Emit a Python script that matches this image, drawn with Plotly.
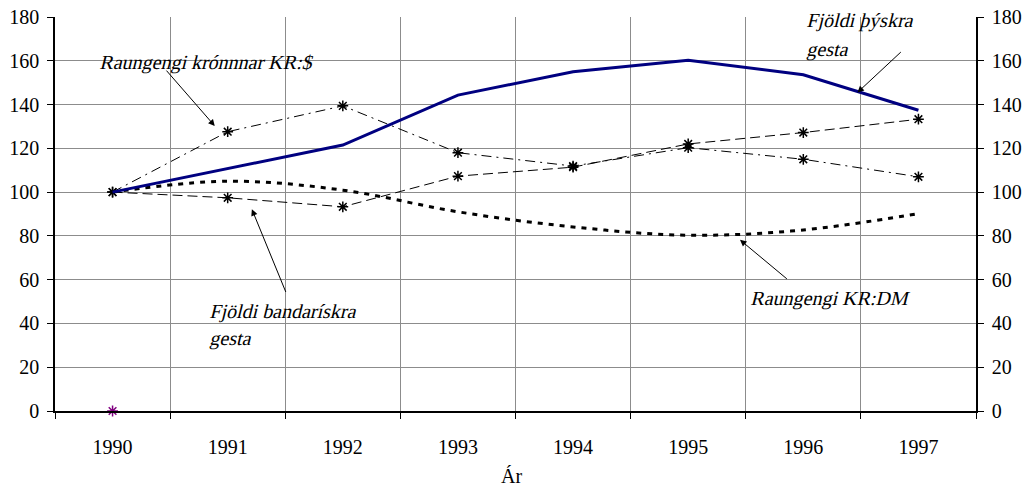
import plotly.graph_objects as go

years = ["1990", "1991", "1992", "1993", "1994", "1995", "1996", "1997"]
thyskir = [100, 110.7, 121.5, 144.3, 155, 160.2, 153.6, 137.4]
kr_usd = [100, 127.6, 139.4, 118, 111.9, 120.3, 115, 107]
bandariskir = [100, 97.4, 93.3, 107.3, 111.4, 122, 127.2, 133.3]
kr_dm = [100, 105, 100.9, 91, 84.1, 80.3, 82.7, 90.2]
extra_year = ["1990"]
extra_val = [0]

FONT = "Liberation Serif, Times New Roman, serif"

fig = go.Figure()

fig.add_trace(go.Scatter(
    x=years, y=kr_dm, mode="lines", line_shape="spline",
    line=dict(color="black", width=3, dash="5px,6px"), showlegend=False
))
fig.add_trace(go.Scatter(
    x=years, y=bandariskir, mode="lines+markers",
    line=dict(color="black", width=1, dash="10px,5px"),
    marker=dict(symbol="asterisk-open", size=9, color="black", line=dict(color="black", width=1.5)),
    showlegend=False
))
fig.add_trace(go.Scatter(
    x=years, y=kr_usd, mode="lines+markers",
    line=dict(color="black", width=1, dash="10px,5px,2px,5px"),
    marker=dict(symbol="asterisk-open", size=9, color="black", line=dict(color="black", width=1.5)),
    showlegend=False
))
fig.add_trace(go.Scatter(
    x=years, y=thyskir, mode="lines",
    line=dict(color="#000080", width=3), showlegend=False
))
fig.add_trace(go.Scatter(
    x=extra_year, y=extra_val, mode="markers", cliponaxis=False,
    marker=dict(symbol="asterisk-open", size=9, color="#800080", line=dict(color="#800080", width=1.5)),
    showlegend=False
))
# invisible trace so the right-hand axis is drawn
fig.add_trace(go.Scatter(
    x=extra_year, y=extra_val, yaxis="y2", mode="markers",
    marker=dict(opacity=0), hoverinfo="skip", showlegend=False
))

# each line is its own annotation so the slant below keeps the lines aligned
labels = [
    # text, x, y, xanchor
    ("Raungengi krónnnar KR:$", 0.82, 159.2, "center"),
    ("Fjöldi þýskra", 6.02, 178.3, "left"),
    ("gesta", 6.02, 165.3, "left"),
    ("Fjöldi bandarískra", 0.84, 45.3, "left"),
    ("gesta", 0.84, 33.0, "left"),
    ("Raungengi KR:DM", 6.24, 51.5, "center"),
]
for txt, x, y, xa in labels:
    fig.add_annotation(x=x, y=y, text=txt, showarrow=False, xanchor=xa, align="left",
                       font=dict(family=FONT, size=20, color="black"))

arrows = [
    # head x, head y, tail x, tail y
    (0.888, 130.2, 0.457, 156.2),
    (6.47, 145.5, 6.86, 164.6),
    (1.21, 92.2, 1.51, 53.7),
    (5.45, 78.2, 5.87, 59.8),
]
for hx, hy, tx, ty in arrows:
    fig.add_annotation(x=hx, y=hy, ax=tx, ay=ty, xref="x", yref="y",
                       axref="x", ayref="y", text="", showarrow=True,
                       arrowhead=2, arrowsize=1.3, arrowwidth=1, arrowcolor="black")

fig.add_annotation(x=0.496, y=-0.165, xref="paper", yref="paper", text="Ár",
                   showarrow=False, yanchor="middle",
                   font=dict(family=FONT, size=20, color="black"))

axis_font = dict(family=FONT, size=20, color="black")
fig.update_layout(
    width=1029, height=494,
    margin=dict(l=55, r=53, t=17, b=83),
    plot_bgcolor="white", paper_bgcolor="white",
    font=axis_font,
    xaxis=dict(
        type="category", range=[-0.5, 7.5], tickson="boundaries",
        showgrid=True, gridcolor="#8c8c8c", gridwidth=1,
        ticks="outside", ticklen=6, tickcolor="black",
        showline=True, linecolor="black", linewidth=1.5,
        ticklabelstandoff=17, tickfont=axis_font, zeroline=False, automargin=False
    ),
    yaxis=dict(
        range=[0, 180], dtick=20, showgrid=True, gridcolor="#8c8c8c", gridwidth=1,
        ticks="outside", ticklen=6, tickcolor="black",
        showline=True, linecolor="black", linewidth=1.5, ticklabeloverflow="allow",
        ticklabelstandoff=4, tickfont=axis_font, zeroline=False, automargin=False
    ),
    yaxis2=dict(
        range=[0, 180], dtick=20, overlaying="y", side="right", showgrid=False,
        ticks="outside", ticklen=6, tickcolor="black",
        showline=True, linecolor="black", linewidth=1.5, ticklabeloverflow="allow",
        ticklabelstandoff=4, tickfont=axis_font, zeroline=False, automargin=False
    ),
)

# drop the page margin; no serif italic face is installed, so slant the label text
page_js = """
document.body.style.margin = '0';
document.querySelectorAll('text.annotation-text').forEach(function (t) {
  if (!t.textContent || t.textContent === 'Ár') return;
  var b = t.getBBox();
  var cx = b.x + b.width / 2, cy = b.y + b.height / 2;
  var old = t.getAttribute('transform') || '';
  t.setAttribute('transform', old + ' translate(' + cx + ',' + cy + ') skewX(-14) translate(' + (-cx) + ',' + (-cy) + ')');
});
"""

fig.write_html("out.html", post_script=page_js, config={"displayModeBar": False})
